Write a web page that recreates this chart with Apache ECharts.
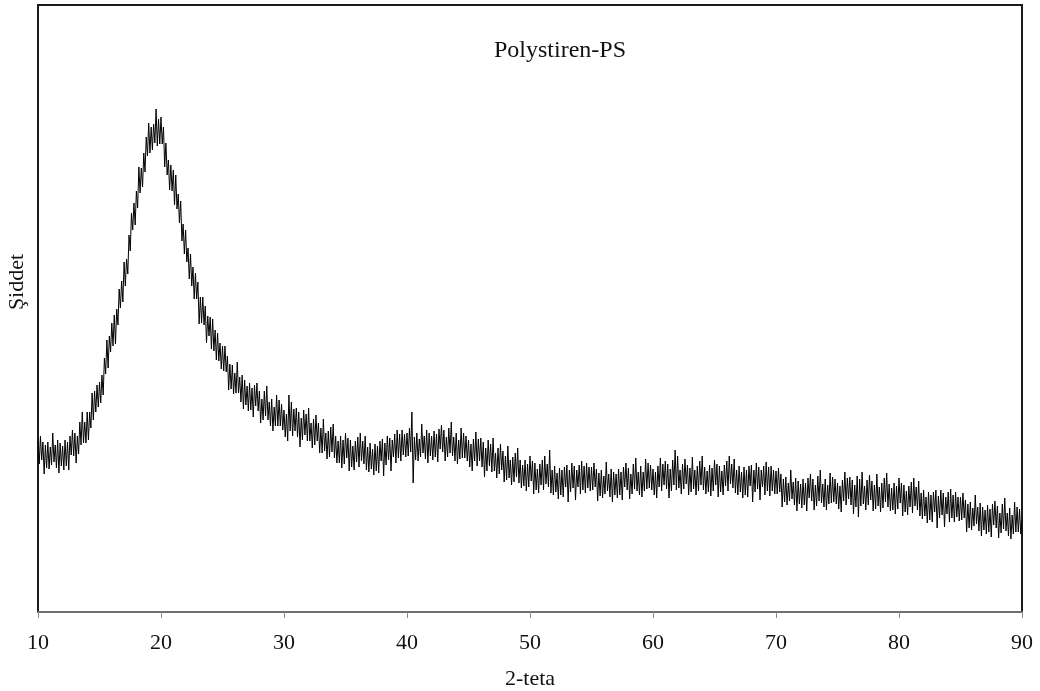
<!DOCTYPE html>
<html>
<head>
<meta charset="utf-8">
<title>Polystiren-PS</title>
<script src="https://cdn.jsdelivr.net/npm/echarts@6/dist/echarts.min.js"></script>
<style>
  html, body { margin: 0; padding: 0; background: #fff; }
  #chart { width: 1040px; height: 691px; }
</style>
</head>
<body>
<div id="chart"></div>
<script>
  // 2-theta scan: first angle and step, intensity (arbitrary units)
  const thetaStart = 10;
  const thetaStep = 0.1;
  const intensity = [
    // 10 - 14.9
    171,148,176,152,170,138,167,144,170,143, 165,147,179,150,167,144,172,139,169,146,
    166,142,172,146,170,142,176,157,182,156, 179,149,176,158,190,167,200,169,190,169,
    200,172,200,184,219,192,221,200,227,205,
    // 15 - 19.9
    230,209,237,217,254,238,272,244,276,260, 289,266,297,268,303,287,323,304,331,310,
    350,326,353,338,377,361,399,382,409,387, 421,404,445,419,444,425,459,440,475,456,
    489,459,485,462,488,469,503,466,493,468,
    // 20 - 24.9
    495,468,485,445,469,437,452,422,447,421, 442,407,437,403,418,389,411,371,388,358,
    382,350,364,333,358,326,345,313,339,313, 330,288,315,289,315,287,306,269,296,276,
    295,263,293,261,282,252,279,251,269,243,
    // 25 - 29.9
    266,241,266,240,256,222,248,223,247,218, 239,219,250,219,235,210,237,203,232,207,
    226,201,229,202,224,195,227,206,229,201, 221,189,213,192,221,196,226,192,210,186,
    213,181,205,186,217,186,212,186,208,182,
    // 30 - 34.9
    202,175,198,171,217,181,210,176,203,181, 204,175,200,165,194,172,202,177,198,171,
    204,171,189,164,193,167,197,171,189,159, 184,159,193,161,179,153,181,155,185,160,
    188,154,176,149,171,149,176,144,172,148,
    // 35 - 39.9
    179,154,174,141,172,145,166,142,171,150, 175,145,179,151,171,148,176,142,165,140,
    169,143,163,137,168,141,166,139,171,151, 173,136,169,147,176,152,174,141,172,155,
    178,149,182,154,178,151,182,157,178,155,
    // 40 - 44.9
    179,156,184,160,200,129,175,152,179,151, 173,155,188,159,176,153,182,149,179,156,
    176,152,181,155,178,150,183,163,187,160, 182,151,175,155,184,159,190,156,175,151,
    179,148,172,153,184,154,179,154,176,151,
    // 45 - 49.9
    172,145,168,141,173,151,180,146,173,151, 174,145,170,135,164,141,172,146,168,140,
    174,141,159,134,164,138,168,142,161,130, 156,132,166,134,152,127,155,130,159,135,
    164,129,152,124,147,126,152,121,148,125,
    // 50 - 54.9
    156,131,151,118,149,122,143,119,148,127, 152,122,156,128,148,125,162,119,142,117,
    146,120,139,113,144,117,142,115,145,125, 147,110,142,120,149,124,146,112,142,125,
    147,118,151,122,146,119,149,124,145,121,
    // 55 - 59.9
    145,122,149,125,143,111,139,116,142,114, 136,118,150,121,138,115,143,110,140,117,
    138,114,143,117,140,112,145,125,149,122, 144,113,138,118,148,123,154,121,140,117,
    146,115,140,121,153,123,149,124,147,122,
    // 60 - 64.9
    143,117,140,114,146,125,154,121,148,127, 151,123,148,114,143,121,152,127,162,122,
    156,124,142,118,148,123,153,128,147,117, 144,120,155,123,142,117,146,121,151,127,
    156,122,145,118,141,120,147,116,144,121,
    // 65 - 69.9
    152,127,148,115,146,120,141,117,147,126, 151,121,156,128,148,124,153,119,142,117,
    146,120,140,114,145,117,142,115,146,126, 147,110,142,120,149,123,145,112,142,125,
    146,117,150,121,145,116,146,121,142,118,
    // 70 - 74.9
    141,118,144,120,138,105,133,110,135,107, 129,111,142,113,130,107,134,101,131,108,
    128,104,133,107,129,101,134,114,138,111, 133,102,127,106,136,111,142,109,128,105,
    133,102,127,108,139,109,135,110,133,108,
    // 75 - 79.9
    129,103,126,100,132,111,140,107,134,113, 135,107,132,98,127,105,136,95,133,106,
    140,108,126,102,132,107,137,112,131,101, 127,103,138,106,125,100,129,104,134,110,
    139,105,128,101,124,102,129,98,126,103,
    // 80 - 84.9
    134,109,129,96,127,100,121,97,126,105, 130,99,134,106,125,102,131,96,119,93,
    122,96,115,89,120,92,117,90,120,100, 122,84,116,94,122,97,119,85,115,98,
    120,90,123,94,117,90,120,95,115,91,
    // 85 - 90
    115,92,119,94,112,80,108,84,110,82, 104,86,117,88,105,81,109,76,105,82,
    102,78,107,80,103,75,108,87,111,84, 106,74,99,79,108,83,114,81,99,76,
    104,73,97,78,110,80,105,80,103,78,
    92
  ];
  const xTicks = [10, 20, 30, 40, 50, 60, 70, 80, 90];

  const points = intensity.map(function (v, i) {
    return [+(thetaStart + i * thetaStep).toFixed(1), v];
  });

  const font = '"Liberation Serif", "Times New Roman", serif';
  const chart = echarts.init(document.getElementById('chart'));
  chart.setOption({
    animation: false,
    backgroundColor: '#fff',
    title: {
      text: 'Polystiren-PS',
      left: 555,
      top: 34,
      textAlign: 'center',
      textStyle: { fontFamily: font, fontSize: 24, fontWeight: 'normal', color: '#111' }
    },
    graphic: [{
      type: 'text',
      x: 17,
      y: 282,
      rotation: Math.PI / 2,
      style: {
        text: 'Şiddet',
        font: '22px ' + font,
        fill: '#111',
        textAlign: 'center',
        textVerticalAlign: 'middle'
      }
    }],
    grid: {
      left: 38, right: 18, top: 5, bottom: 79,
      outerBoundsMode: 'none',
      show: true,
      borderColor: '#1a1a1a',
      borderWidth: 2
    },
    xAxis: {
      type: 'value',
      min: xTicks[0],
      max: xTicks[xTicks.length - 1],
      interval: 10,
      name: '2-teta',
      nameLocation: 'middle',
      nameGap: 56,
      nameTextStyle: { fontFamily: font, fontSize: 22, color: '#111' },
      axisLine: { show: true, lineStyle: { color: '#6e6e6e', width: 2 } },
      axisTick: { show: true, length: 6, lineStyle: { color: '#8a8a8a', width: 1 } },
      axisLabel: { fontFamily: font, fontSize: 22, color: '#111', margin: 20 },
      splitLine: { show: false }
    },
    yAxis: {
      type: 'value',
      min: 0,
      max: 607,
      axisLine: { show: false },
      axisTick: { show: false },
      axisLabel: { show: false },
      splitLine: { show: false }
    },
    series: [{
      type: 'line',
      data: points,
      showSymbol: false,
      symbol: 'none',
      sampling: false,
      lineStyle: { color: '#000', width: 1 }
    }]
  });
</script>
</body>
</html>
